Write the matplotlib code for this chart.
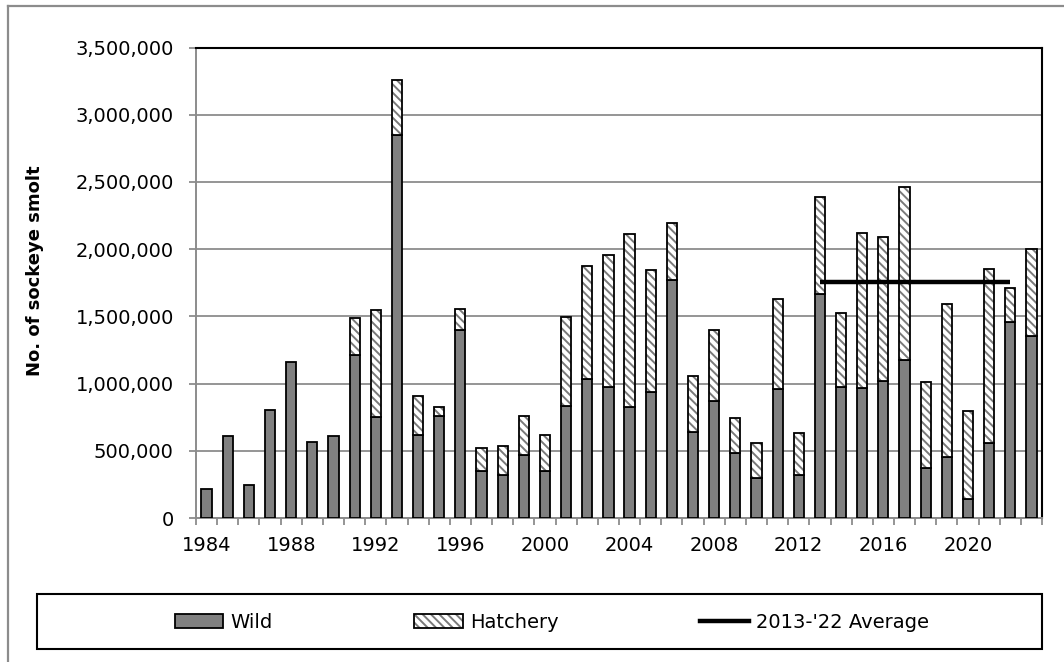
import matplotlib
matplotlib.use("Agg")
import matplotlib.pyplot as plt
import matplotlib.patches as mpatches
from matplotlib.lines import Line2D
from matplotlib.ticker import FuncFormatter, MultipleLocator, FixedLocator
import numpy as np

# ---------------- data ----------------
years = list(range(1984, 2024))
wild = [215000, 607000, 244000, 806000, 1164000, 569000, 607000, 1214000, 748000, 2851000,
        617000, 756000, 1401000, 346000, 321000, 468000, 346000, 836000, 1037000, 972000,
        823000, 938000, 1769000, 642000, 868000, 483000, 301000, 958000, 321000, 1664000,
        972000, 965000, 1022000, 1179000, 375000, 455000, 140000, 560000, 1455000, 1356000]
hatchery = [0, 0, 0, 0, 0, 0, 0, 273000, 799000, 408000,
            293000, 67000, 156000, 174000, 216000, 293000, 271000, 659000, 834000, 988000,
            1289000, 905000, 425000, 412000, 528000, 261000, 254000, 669000, 311000, 724000,
            556000, 1157000, 1070000, 1281000, 635000, 1135000, 653000, 1293000, 254000, 646000]
avg_start, avg_end = 2013, 2022
xtick_years = [1984, 1988, 1992, 1996, 2000, 2004, 2008, 2012, 2016, 2020]
series_labels = ["Wild", "Hatchery", "2013-'22 Average"]
ylabel = "No. of sockeye smolt"

# ---------------- style ----------------
plt.rcParams['font.family'] = ['DejaVu Sans']
plt.rcParams['hatch.linewidth'] = 1.4
GRAY = "#808080"
AXGRAY = "#8c8c8c"
FS = 14

W, H = 1064, 662
fig = plt.figure(figsize=(W / 100, H / 100), dpi=100)

def fx(px):
    return px / W

def fy(py):
    return 1 - py / H

ax = fig.add_axes([fx(196), fy(518), fx(1042) - fx(196), fy(47.5) - fy(518)])

x = np.arange(len(years))
wild_arr = np.array(wild)
hat_arr = np.array(hatchery)
bw = 0.48

ax.bar(x, wild_arr, width=bw, color=GRAY, edgecolor="black", linewidth=1.3, zorder=3)
ax.bar(x, hat_arr, width=bw, bottom=wild_arr, facecolor="white", edgecolor="#7a7a7a",
       hatch="\\\\\\\\", linewidth=0, zorder=3)
mask = hat_arr > 0
ax.bar(x[mask], hat_arr[mask], width=bw, bottom=wild_arr[mask], fill=False,
       edgecolor="black", linewidth=1.3, zorder=4)

# average line
totals = wild_arr + hat_arr
i0 = years.index(avg_start)
i1 = years.index(avg_end)
avg = totals[i0:i1 + 1].mean()
ax.plot([x[i0], x[i1]], [avg, avg], color="black", linewidth=3.2, zorder=5,
        solid_capstyle="butt")

# axes
ax.set_xlim(-0.5, len(years) - 0.5)
ax.set_ylim(0, 3500000)
ax.yaxis.set_major_locator(MultipleLocator(500000))
ax.yaxis.set_major_formatter(FuncFormatter(lambda v, p: f"{int(v):,}"))
ax.grid(axis="y", color=AXGRAY, linewidth=1.3, zorder=0)
ax.set_axisbelow(True)

ax.xaxis.set_major_locator(FixedLocator([years.index(y) for y in xtick_years]))
ax.set_xticklabels([str(y) for y in xtick_years])
ax.xaxis.set_minor_locator(FixedLocator(np.arange(-0.5, len(years), 1.0)))
ax.tick_params(axis="x", which="major", length=0, pad=13, labelsize=FS)
ax.tick_params(axis="x", which="minor", length=5, width=1.3, color=AXGRAY, direction="out")
ax.tick_params(axis="y", which="major", length=5, width=1.3, color=AXGRAY, direction="out",
               pad=11, labelsize=FS)

ax.spines["left"].set_color(AXGRAY)
ax.spines["bottom"].set_color(AXGRAY)
ax.spines["left"].set_linewidth(1.4)
ax.spines["bottom"].set_linewidth(1.4)
ax.spines["top"].set_color("black")
ax.spines["right"].set_color("black")
ax.spines["top"].set_linewidth(1.5)
ax.spines["right"].set_linewidth(1.5)

fig.text(fx(35), fy(271), ylabel, rotation=90, fontsize=13, fontweight="bold",
         ha="center", va="center")

# outer chart border (top and left only visible)
fig.add_artist(Line2D([fx(8), 1.0], [fy(6), fy(6)], color=AXGRAY, linewidth=1.6))
fig.add_artist(Line2D([fx(8), fx(8)], [fy(6), 0.0], color=AXGRAY, linewidth=1.6))

# legend frame
fig.add_artist(mpatches.Rectangle((fx(37), fy(649)), fx(1042) - fx(37), fy(594) - fy(649),
                                  transform=fig.transFigure, fill=False,
                                  edgecolor="black", linewidth=1.5))

h_wild = mpatches.Patch(facecolor=GRAY, edgecolor="black", linewidth=1.3)
h_hat_fill = mpatches.Patch(facecolor="white", edgecolor="#7a7a7a", hatch="\\\\\\\\", linewidth=0)
h_hat_edge = mpatches.Patch(fill=False, edgecolor="black", linewidth=1.3)
h_avg = Line2D([0], [0], color="black", linewidth=3.2)
leg = fig.legend([h_wild, (h_hat_fill, h_hat_edge), h_avg], series_labels,
                 loc="center left", bbox_to_anchor=(fx(167), fy(622)), ncol=3,
                 frameon=False, fontsize=FS, handlelength=2.5, handleheight=0.7,
                 handletextpad=0.35, columnspacing=7.3, borderaxespad=0)

fig.savefig("out.png", dpi=100)
